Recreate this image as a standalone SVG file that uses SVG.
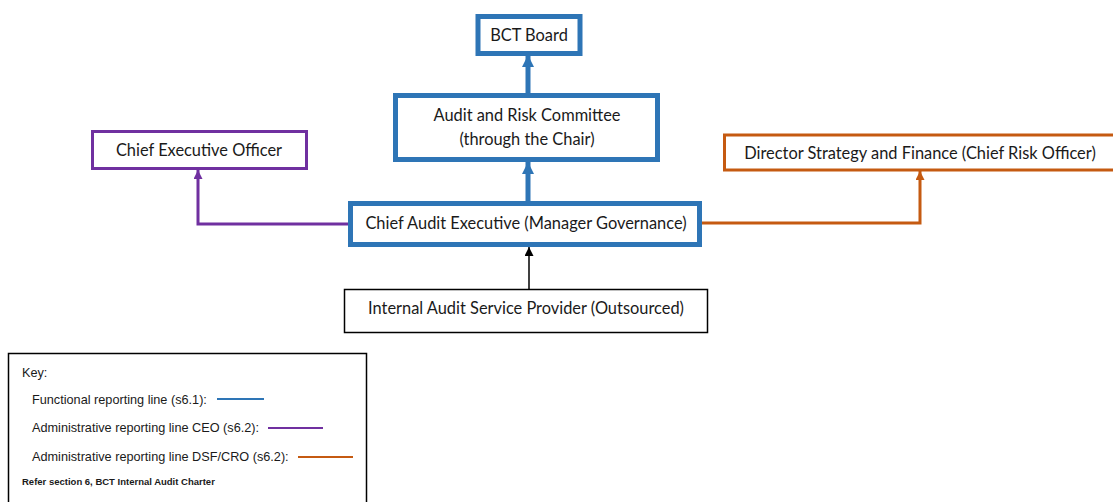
<svg xmlns="http://www.w3.org/2000/svg" width="1113" height="502" viewBox="0 0 1113 502">
  <style>
    .node { fill: #ffffff; }
    .blue { stroke: #2E75B6; stroke-width: 5; }
    .purple { stroke: #7030A0; stroke-width: 3; }
    .orange { stroke: #C55A11; stroke-width: 3; }
    .black { stroke: #000000; stroke-width: 1.5; }
    .label { font-family: Lato, "Liberation Sans", sans-serif; font-size: 16.4px; fill: #1a1a1a; text-anchor: middle; }
    .key { font-family: "Liberation Sans", Arial, sans-serif; font-size: 12.7px; fill: #1a1a1a; }
    .keybold { font-family: "Liberation Sans", Arial, sans-serif; font-size: 9.5px; font-weight: bold; fill: #1a1a1a; }
    .line { fill: none; }
  </style>
  <defs>
    <marker id="arrowBlue" viewBox="0 0 10 10" refX="10" refY="5" markerWidth="2.4" markerHeight="2.8" orient="auto" markerUnits="strokeWidth">
      <path d="M0,0 L10,5 L0,10 z" fill="#2E75B6"/>
    </marker>
    <marker id="arrowPurple" viewBox="0 0 10 10" refX="10" refY="5" markerWidth="3.3" markerHeight="3" orient="auto" markerUnits="strokeWidth">
      <path d="M0,0 L10,5 L0,10 z" fill="#7030A0"/>
    </marker>
    <marker id="arrowOrange" viewBox="0 0 10 10" refX="10" refY="5" markerWidth="3.3" markerHeight="3" orient="auto" markerUnits="strokeWidth">
      <path d="M0,0 L10,5 L0,10 z" fill="#C55A11"/>
    </marker>
    <marker id="arrowBlack" viewBox="0 0 10 10" refX="10" refY="5" markerWidth="7" markerHeight="6" orient="auto" markerUnits="strokeWidth">
      <path d="M0,0 L10,5 L0,10 z" fill="#000000"/>
    </marker>
  </defs>

  <g id="connectors">
    <line class="line blue" x1="528" y1="93" x2="528" y2="55" marker-end="url(#arrowBlue)"/>
    <line class="line blue" x1="528" y1="201" x2="528" y2="162" marker-end="url(#arrowBlue)"/>
    <line class="line black" x1="529" y1="289" x2="529" y2="247" marker-end="url(#arrowBlack)"/>
    <polyline class="line purple" points="348,224 198,224 198,170" marker-end="url(#arrowPurple)"/>
    <polyline class="line orange" points="702,223 920,223 920,171" marker-end="url(#arrowOrange)"/>
  </g>

  <g id="bct-board">
    <rect class="node blue" x="478" y="16.5" width="102" height="37"/>
    <text class="label" x="529" y="41">BCT Board</text>
  </g>

  <g id="audit-risk-committee">
    <rect class="node blue" x="395.5" y="95.5" width="262" height="64"/>
    <text class="label" x="527" y="121">Audit and Risk Committee</text>
    <text class="label" x="527" y="145">(through the Chair)</text>
  </g>

  <g id="chief-executive-officer">
    <rect class="node purple" x="92.5" y="131.5" width="214" height="37"/>
    <text class="label" x="199" y="156">Chief Executive Officer</text>
  </g>

  <g id="director-strategy-finance">
    <rect class="node orange" x="724.5" y="135" width="392" height="35"/>
    <text class="label" x="920" y="159">Director Strategy and Finance (Chief Risk Officer)</text>
  </g>

  <g id="chief-audit-executive">
    <rect class="node blue" x="350.5" y="203.5" width="349" height="41"/>
    <text class="label" x="526" y="229">Chief Audit Executive (Manager Governance)</text>
  </g>

  <g id="internal-audit-provider">
    <rect class="node black" x="344.5" y="289.5" width="363" height="43"/>
    <text class="label" x="526" y="314">Internal Audit Service Provider (Outsourced)</text>
  </g>

  <g id="key">
    <rect class="node black" x="8.5" y="353.5" width="358" height="160"/>
    <text class="key" x="22" y="377">Key:</text>
    <text class="key" x="32" y="404">Functional reporting line (s6.1):</text>
    <line x1="217" y1="399" x2="264" y2="399" stroke="#2E75B6" stroke-width="2"/>
    <text class="key" x="32" y="432">Administrative reporting line CEO (s6.2):</text>
    <line x1="268" y1="428" x2="323" y2="428" stroke="#7030A0" stroke-width="2"/>
    <text class="key" x="32" y="461">Administrative reporting line DSF/CRO (s6.2):</text>
    <line x1="298" y1="457" x2="353" y2="457" stroke="#C55A11" stroke-width="2"/>
    <text class="keybold" x="22" y="485">Refer section 6, BCT Internal Audit Charter</text>
  </g>
</svg>
